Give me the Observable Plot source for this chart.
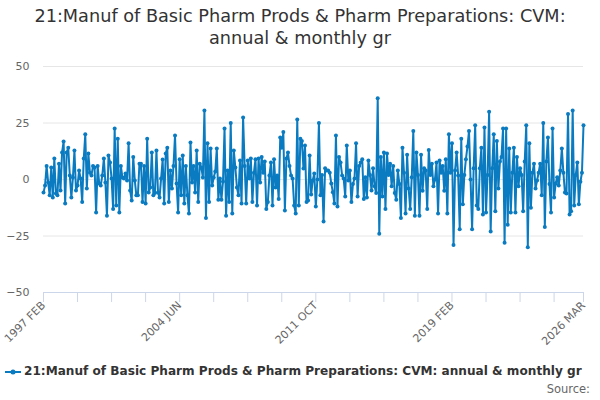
<!DOCTYPE html>
<html>
<head>
<meta charset="utf-8">
<script src="https://cdn.jsdelivr.net/npm/d3@7"></script>
<script src="https://cdn.jsdelivr.net/npm/@observablehq/plot@0.6"></script>
<style>
  body { margin: 0; background: #fff; font-family: "DejaVu Sans", sans-serif; }
  #wrap { position: relative; width: 600px; height: 400px; overflow: hidden; }
  #title { position: absolute; left: 0; top: 5px; width: 600px; text-align: center; font-size: 17.7px; line-height: 22px; color: #333; }
  #chart { position: absolute; left: 0; top: 52px; }
  #legend { position: absolute; left: 0; top: 362px; width: 600px; height: 18px; white-space: nowrap; font-size: 12.1px; font-weight: bold; color: #333; line-height: 18px; }
  #legend svg { vertical-align: middle; margin-left: 5px; margin-right: 3px; }
  #source { position: absolute; right: 10px; top: 382px; font-size: 11.5px; color: #666; }
</style>
</head>
<body>
<div id="wrap">
  <div id="title">21:Manuf of Basic Pharm Prods &amp; Pharm Preparations: CVM:<br>annual &amp; monthly gr</div>
  <div id="chart"></div>
  <div id="legend"></div>
  <div id="source">Source:</div>
</div>
<script>
const seriesName = "21:Manuf of Basic Pharm Prods & Pharm Preparations: CVM: annual & monthly gr";
const startYear = 1997, startMonthIndex = 1; // FEB 1997
const values = [
  -5.8, -2.7, 6, -1.3, -7, 5.3, -8, 9.3, -6.2, -7, 7, -4.9, 12, 16.8, -10.6, 12, 14, 1.8, -8, 0.9, 12.8, -4.9, -2.7, 4, 0.4, -10, 9.3, 20, -4, 11.5, 3, 1.8, 6, 5.3, -14.6,
  6, -1.8, -2.7, 1.8, 9.3, -1.3, -16, 10.6, 7.5, 0.4, -13, 22.6, -11.5, 18, -14.6, 6, 0.9, 0.4, 2.7, -0.4, 16, -4.9, -9.3, 10, -0.4, -7, -7, 7, 7, -10, 6, -10.6, 18, -5.8, -3.5,
  12, -7, -6, 12.8, -5.8, -8, 0.4, 8.8, -10.6, 11.5, 14, -10, 4, -4, 6, 19.5, -1.8, -14.6, 9, -7, 10.6, -10.6, 6, -7, -15, 16.4, -1.3, 6, -5.8, 12.8, -10, 7, 5.3, 0.9, 30.5,
  -17, 16, -10, 13.7, -2.7, 0.9, 3.5, 13.7, -9, 0.4, -9, -0.9, 22.6, -16, 4, -10, 25, -15, 12.8, 5.3, -3.5, -7, 8.4, -10.6, 27.4, 6, -10.6, 8.4, 0.4, 9.3, -10, 3, 9, -11.5,
  9.3, -1.3, 10, 3, 8, -13, -10, 1.8, 7.5, -11.5, 9, -3.5, 1.8, -8.6, 18.6, 14, 21, -13.7, 9.3, 12, 6, 1.8, 0.4, -11.5, -15, 26.5, -11.5, 18, 17, 4.9, 15, -10, -9.3, 10.6,
  -6.6, -0.4, 2.7, -12, 0, 25, -7, 2, -18.6, 5, 4, 4, 3, -1.8, -5.6, -10.6, 19.5, -12, 10, 7.5, 1.8, 0.4, -7.5, 15, -0.4, 4, -10, -2, 0.4, 16, -7.5, 6, 7.5, 9, -8.6, 1, -8, 8.4, 2, -4.9, 5, -3, -6, 36, -24,
  10, -7.5, 12, -13, 11.5, 2, 7, -3, 6, -6, -9, 4, -2, -17, 14, 3, -15, 11, -4, -13, 1, 21.5, -16, 12, 2, -16, 11, -5, 5, 4, -13, 13, 2, 7, -3, 0, 7.5, -15, 8.4, 3, 6, -5, 9,
  -15, 20, 3, 16, -29, 4, 12, 1.8, -22, 18, -11, 2, 9, 14.6, 21.5, 0, -22, 5, 24, -11.5, -13, 5, 14, -15.5, 23, -14.6, 2, 30, -23, 5, 20, -14, 17, -4, 8, 10, 22.6, -28, 22.6, -20, 13.7, -14.6,
  3, 14, -14.6, 10, -3, 5, 2, -14, 8, 24, -30, 16, -12.5, 3, 7, -4, -0.4, 3, 7, -7, 25, -21, 8, 18.6, -2, -14.6, 22.6, -8, -1.8, 1, -2.7, 4, 13.7, 3, -5.8, -6.2, 29, -15.5, -14, 30.5, -11.5, 2, 7.5, -11, -1, 3, 24
];
const yTicks = [-50, -25, 0, 25, 50];
const tickLabels = ["1997 FEB", "2004 JUN", "2011 OCT", "2019 FEB", "2026 MAR"];
const tickStep = 22;

const monNames = ["JAN","FEB","MAR","APR","MAY","JUN","JUL","AUG","SEP","OCT","NOV","DEC"];
const months = values.map((_, i) => {
  const m = startMonthIndex + i;
  return `${startYear + Math.floor(m / 12)} ${monNames[m % 12]}`;
});
const data = values.map((v, i) => ({month: months[i], value: v}));
const tickMonths = months.filter((_, i) => i % tickStep === 0);
if (!tickMonths.includes(months[months.length - 1])) tickMonths.push(months[months.length - 1]);

const color = "#0a7bc0";
const plot = Plot.plot({
  width: 600,
  height: 300,
  marginTop: 14,
  marginBottom: 60,
  marginLeft: 43,
  marginRight: 17,
  style: {fontFamily: "DejaVu Sans, sans-serif", fontSize: "11px", color: "#666", background: "transparent"},
  x: {type: "point", domain: months, padding: 0},
  y: {domain: [-50, 50]},
  marks: [
    Plot.gridY(yTicks.filter(t => t > -50), {stroke: "#e6e6e6", strokeOpacity: 1}),
    Plot.ruleY([-50], {stroke: "#ccd6eb"}),
    Plot.axisY({ticks: yTicks, tickSize: 0, tickPadding: 14, label: null, fill: "#666"}),
    Plot.axisX({ticks: tickMonths, tickFormat: m => tickLabels.includes(m) ? m : "", tickRotate: -45, tickSize: 10, tickPadding: 1, stroke: "#ccd6eb", label: null, fill: "#666"}),
    Plot.line(data, {x: "month", y: "value", stroke: color, strokeWidth: 2}),
    Plot.dot(data, {x: "month", y: "value", r: 2, fill: color})
  ]
});
document.getElementById("chart").appendChild(plot);

const legend = document.getElementById("legend");
const ls = d3.create("svg").attr("width", 16).attr("height", 10);
ls.append("line").attr("x1", 0).attr("x2", 16).attr("y1", 5).attr("y2", 5).attr("stroke", color).attr("stroke-width", 2);
ls.append("circle").attr("cx", 8).attr("cy", 5).attr("r", 2.5).attr("fill", color);
legend.appendChild(ls.node());
legend.appendChild(document.createTextNode(seriesName));
</script>
</body>
</html>
